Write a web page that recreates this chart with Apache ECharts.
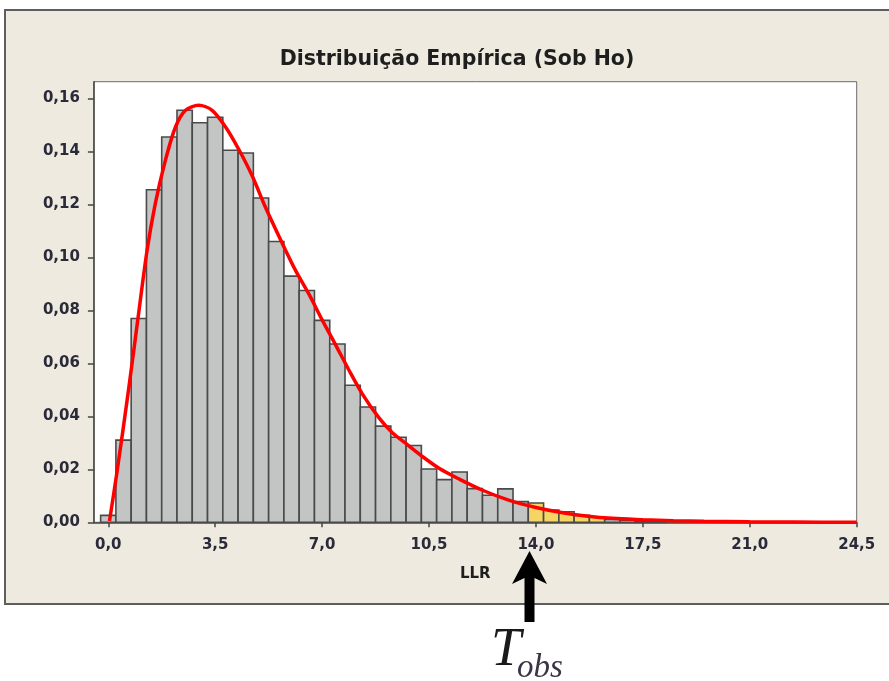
<!DOCTYPE html>
<html>
<head>
<meta charset="utf-8">
<script src="https://cdn.jsdelivr.net/npm/echarts@6/dist/echarts.min.js"></script>
<style>
html,body{margin:0;padding:0;background:#fff;}
#c{width:889px;height:681px;}
</style>
</head>
<body>
<div id="c"></div>
<script>
// ---- data ----
const titleText = 'Distribuição Empírica (Sob Ho)';
const xName = 'LLR';
const binWidth = 0.5;
const binCenters = [0,0.5,1,1.5,2,2.5,3,3.5,4,4.5,5,5.5,6,6.5,7,7.5,8,8.5,9,9.5,10,10.5,11,11.5,12,12.5,13,13.5,14,14.5,15,15.5,16,16.5,17,17.5,18];
const binValues = [0.0026,0.031,0.0769,0.1255,0.1454,0.1555,0.1508,0.1529,0.1404,0.1394,0.1224,0.106,0.0929,0.0875,0.0762,0.0673,0.0517,0.0435,0.0363,0.0321,0.029,0.0201,0.0161,0.019,0.0127,0.0102,0.0126,0.0078,0.0073,0.0046,0.004,0.0026,0.002,0.0011,0.0008,0.0004,0.0003];
const tailFrom = 14.0, tailTo = 16.0;   // highlighted (yellow) bins
const curveX = [0.04,0.28,0.67,0.99,1.27,1.54,1.87,2.2,2.53,2.96,3.4,3.84,4.27,4.71,5.15,5.7,6.13,6.57,7.01,7.45,7.88,8.32,8.87,9.3,9.74,10.29,10.84,11.49,12.25,13.13,14.0,14.88,15.64,16.5,17.5,18.5,19.5,21.0,22.5,24.5];
const curveY = [0.0005,0.0185,0.0505,0.0785,0.1026,0.1203,0.1366,0.1492,0.1555,0.1574,0.1555,0.1492,0.1408,0.1308,0.1188,0.1052,0.0951,0.0861,0.0762,0.0668,0.0574,0.0484,0.0393,0.0338,0.0298,0.0248,0.0203,0.0163,0.0121,0.0083,0.0056,0.0036,0.0024,0.0015,0.001,0.0006,0.0004,0.0002,0.0001,0];
const xTicks = [0,3.5,7,10.5,14,17.5,21,24.5];
const yTicks = [0,0.02,0.04,0.06,0.08,0.10,0.12,0.14,0.16];

// ---- build ----
const barData = binCenters.map((c,i)=>[c, binValues[i], (c>=tailFrom && c<=tailTo)?1:0]);
const curveData = curveX.map((x,i)=>[x, curveY[i]]);

const chart = echarts.init(document.getElementById('c'), null, {renderer:'canvas'});
const labelColor = '#2a2a38';
chart.setOption({
  animation:false,
  backgroundColor:'#ffffff',
  title:{
    text:titleText, left:452, top:44, textAlign:'center',
    textStyle:{fontFamily:'DejaVu Sans', fontWeight:'bold', fontSize:20.5, color:'#1e1e1e'}
  },
  grid:{left:93.9, right:32.3, top:81.7, bottom:158.7, show:true, backgroundColor:'#ffffff', borderColor:'#6a6a6a', borderWidth:1},
  xAxis:{
    type:'value', min:-0.47, max:24.5,
    name:xName, nameLocation:'middle', nameGap:44,
    nameTextStyle:{fontFamily:'DejaVu Sans', fontWeight:'bold', fontSize:15, color:'#1e1e1e'},
    axisLine:{onZero:false, lineStyle:{color:'#454545', width:1.5}},
    axisTick:{customValues:xTicks, length:5, lineStyle:{color:'#454545', width:1.5}},
    axisLabel:{customValues:xTicks, margin:15, fontFamily:'DejaVu Sans', fontWeight:'bold', fontSize:15, color:labelColor,
      formatter:v=>v.toFixed(1).replace('.',',')},
    splitLine:{show:false}
  },
  yAxis:{
    type:'value', min:0, max:0.1663,
    axisLine:{show:true, onZero:false, lineStyle:{color:'#454545', width:1.5}},
    axisTick:{show:true, customValues:yTicks, length:6, lineStyle:{color:'#454545', width:1.5}},
    axisLabel:{customValues:yTicks, margin:14, fontFamily:'DejaVu Sans', fontWeight:'bold', fontSize:15, color:labelColor,
      formatter:v=>v.toFixed(2).replace('.',',')},
    splitLine:{show:false}
  },
  series:[
    {
      type:'custom', data:barData, z:3,
      renderItem:function(params, api){
        const x = api.value(0), y = api.value(1), hl = api.value(2);
        const p1 = api.coord([x - binWidth/2, y]);
        const p2 = api.coord([x + binWidth/2, 0]);
        return {type:'rect', shape:{x:p1[0], y:p1[1], width:p2[0]-p1[0], height:p2[1]-p1[1]},
          style:{fill: hl ? '#f5d664' : '#c3c5c5', stroke:'#4a4a4a', lineWidth:1.6}};
      }
    },
    {
      type:'line', data:curveData, smooth:0.3, showSymbol:false, z:5, clip:true,
      lineStyle:{color:'#ff0000', width:3.5}
    }
  ],
  graphic:[
    {type:'rect', z:-10, shape:{x:5, y:10, width:890, height:594},
      style:{fill:'#eeeae0', stroke:'#5e5e5e', lineWidth:2}},
    {type:'polygon', z:100, shape:{points:[[529.5,551],[547,584],[534.5,578],[534.5,622],[524.5,622],[524.5,578],[512,584]]},
      style:{fill:'#000000'}},
    {type:'text', z:100, x:491, y:624, style:{text:'T', fontFamily:'Liberation Serif', fontStyle:'italic', fontSize:54, fill:'#1a1a1a', verticalAlign:'top'}},
    {type:'text', z:100, x:517, y:652, style:{text:'obs', fontFamily:'Liberation Serif', fontStyle:'italic', fontSize:33, fill:'#3a3444', verticalAlign:'top'}}
  ]
});
</script>
</body>
</html>
